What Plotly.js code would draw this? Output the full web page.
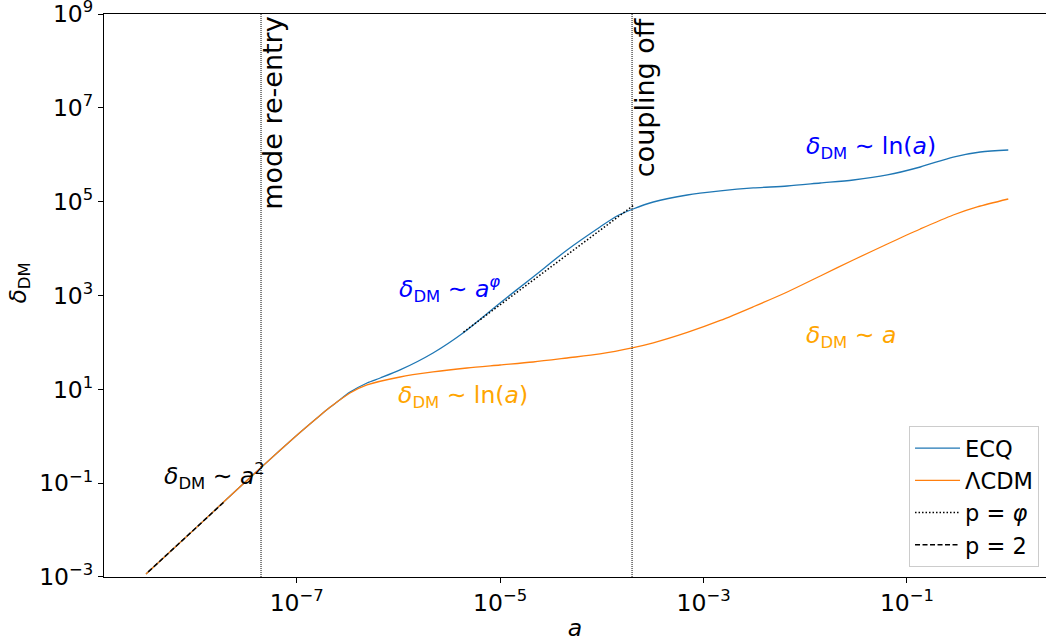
<!DOCTYPE html>
<html>
<head>
<meta charset="utf-8">
<script src="https://cdn.plot.ly/plotly-3.0.1.min.js"></script>
<style>
html,body{margin:0;padding:0;background:#fff;overflow:hidden;}
#chart{width:1046px;height:642px;}
</style>
</head>
<body>
<div id="chart"></div>
<script>
// ---- data (log10 values) ----
const ecqLogA = [-8.482, -7.951, -7.557, -7.164, -6.968, -6.771, -6.673, -6.604, -6.476, -6.309, -6.179, -5.984, -5.660, -5.365, -5.001, -4.676, -4.342, -4.018, -3.851, -3.693, -3.494, -3.160, -2.835, -2.511, -2.177, -1.852, -1.528, -1.193, -0.869, -0.545, -0.279, -0.004];
const ecqLogDelta = [-2.935, -1.873, -1.075, -0.299, 0.08, 0.444, 0.616, 0.730, 0.94, 1.135, 1.242, 1.413, 1.775, 2.201, 2.841, 3.395, 3.970, 4.460, 4.695, 4.844, 4.993, 5.142, 5.228, 5.292, 5.334, 5.398, 5.462, 5.569, 5.739, 5.952, 6.059, 6.101];

const lcdmLogA = [-8.482, -7.951, -7.557, -7.164, -6.968, -6.771, -6.673, -6.604, -6.476, -6.309, -5.984, -5.660, -5.326, -5.001, -4.676, -4.342, -4.018, -3.703, -3.494, -3.160, -2.835, -2.511, -2.177, -1.852, -1.528, -1.193, -0.869, -0.545, -0.309, -0.004];
const lcdmLogDelta = [-2.935, -1.873, -1.075, -0.299, 0.08, 0.444, 0.616, 0.730, 0.922, 1.093, 1.263, 1.370, 1.455, 1.519, 1.583, 1.668, 1.754, 1.882, 1.990, 2.212, 2.468, 2.760, 3.075, 3.416, 3.757, 4.098, 4.418, 4.716, 4.887, 5.057];

const phiLogA = [-5.36, -3.69];
const phiLogDelta = [2.22, 4.92];

const twoLogA = [-8.46, -7.72];
const twoLogDelta = [-2.891, -1.411];

const eventLogA = [-7.351, -3.703];   // mode re-entry, coupling off
const eventLabels = ["mode re-entry", "coupling off"];

const yTickExp = [-3, -1, 1, 3, 5, 7, 9];
const xTickExp = [-7, -5, -3, -1];

const seriesNames = ["ECQ", "ΛCDM", "p = <i>φ</i>", "p = 2"];

// ---- helpers ----
const pw = arr => arr.map(v => Math.pow(10, v));
const lbl = e => "10<sup>" + (e < 0 ? "\u2212" + (-e) : e) + "</sup>";

const FONT = "DejaVu Sans";
const TXT = 23.5;

const traces = [
  {x: pw(ecqLogA), y: pw(ecqLogDelta), mode: "lines", name: seriesNames[0],
   line: {color: "#1f77b4", width: 1.3, shape: "spline", smoothing: 0.8}},
  {x: pw(lcdmLogA), y: pw(lcdmLogDelta), mode: "lines", name: seriesNames[1],
   line: {color: "#ff7f0e", width: 1.3, shape: "spline", smoothing: 0.8}},
  {x: pw(phiLogA), y: pw(phiLogDelta), mode: "lines", name: seriesNames[2],
   line: {color: "#000000", width: 1.5, dash: "1.5px,2px"}},
  {x: pw(twoLogA), y: pw(twoLogDelta), mode: "lines", name: seriesNames[3],
   line: {color: "#000000", width: 1.5, dash: "5px,2.5px"}}
];
eventLogA.forEach(v => {
  traces.push({x: [Math.pow(10, v), Math.pow(10, v)], y: [1e-3, 1e9], mode: "lines",
    showlegend: false, hoverinfo: "skip",
    line: {color: "#000000", width: 1, dash: "1px,1px"}});
});

const ann = (text, x, y, color) => ({text, x, y, xref: "x", yref: "y", xanchor: "left", yanchor: "middle",
  showarrow: false, borderpad: 0, font: {family: FONT, size: TXT, color}});

const annotations = [
  ann("<i>δ</i><sub>DM</sub> ∼ ln(<i>a</i>)", -2.0, 6.155, "#0000ff"),
  ann("<i>δ</i><sub>DM</sub> ∼ <i>a</i>", -2.0, 2.116, "#ffa500"),
  ann("<i>δ</i><sub>DM</sub> ∼ <i>a</i><sup><i>φ</i></sup>", -6.0, 3.139, "#0000ff"),
  ann("<i>δ</i><sub>DM</sub> ∼ ln(<i>a</i>)", -6.01, 0.837, "#ffa500"),
  ann("<i>δ</i><sub>DM</sub> ∼ <i>a</i><sup>2</sup>", -8.315, -0.846, "#000000"),
  {text: eventLabels[0], x: -7.40, y: 0.997, xref: "x", yref: "paper", xanchor: "left", yanchor: "top",
   textangle: -90, showarrow: false, borderpad: 0, font: {family: FONT, size: 27, color: "#000"}},
  {text: eventLabels[1], x: -3.743, y: 0.997, xref: "x", yref: "paper", xanchor: "left", yanchor: "top",
   textangle: -90, showarrow: false, borderpad: 0, font: {family: FONT, size: 27, color: "#000"}},
  // y-axis title
  {text: "<i>δ</i><sub>DM</sub>", x: -0.0902, y: 0.5213, xref: "paper", yref: "paper",
   xanchor: "center", yanchor: "middle", textangle: -90, showarrow: false, borderpad: 0,
   font: {family: FONT, size: TXT, color: "#000"}}
];

const layout = {
  width: 1046, height: 642,
  margin: {l: 104, r: 0, t: 14, b: 65, pad: 0},
  paper_bgcolor: "#ffffff", plot_bgcolor: "#ffffff",
  font: {family: FONT, size: TXT, color: "#000"},
  showlegend: true,
  legend: {x: 0.9926, y: 0.0178, xanchor: "right", yanchor: "bottom",
    bgcolor: "rgba(255,255,255,0.85)", bordercolor: "#cccccc", borderwidth: 1,
    itemwidth: 45,
    font: {family: FONT, size: 22.5, color: "#000"}},
  xaxis: {type: "log", range: [-8.895, 0.367], showgrid: false, zeroline: false,
    showline: true, linecolor: "#000", linewidth: 1, mirror: true,
    ticks: "outside", ticklen: 5, tickcolor: "#000", tickwidth: 1,
    tickvals: pw(xTickExp), ticktext: xTickExp.map(lbl), ticklabeloverflow: "allow",
    tickfont: {family: FONT, size: TXT, color: "#000"},
    title: {text: "<i>a</i>", font: {family: FONT, size: TXT, color: "#000"}, standoff: 3}},
  yaxis: {type: "log", range: [-3.0002, 9.0002], showgrid: false, zeroline: false,
    showline: true, linecolor: "#000", linewidth: 1, mirror: false,
    ticks: "outside", ticklen: 5, tickcolor: "#000", tickwidth: 1,
    tickvals: pw(yTickExp), ticktext: yTickExp.map(lbl), ticklabeloverflow: "allow",
    tickfont: {family: FONT, size: TXT, color: "#000"}},
  annotations
};

Plotly.newPlot("chart", traces, layout, {displayModeBar: false, responsive: false});
</script>
</body>
</html>
